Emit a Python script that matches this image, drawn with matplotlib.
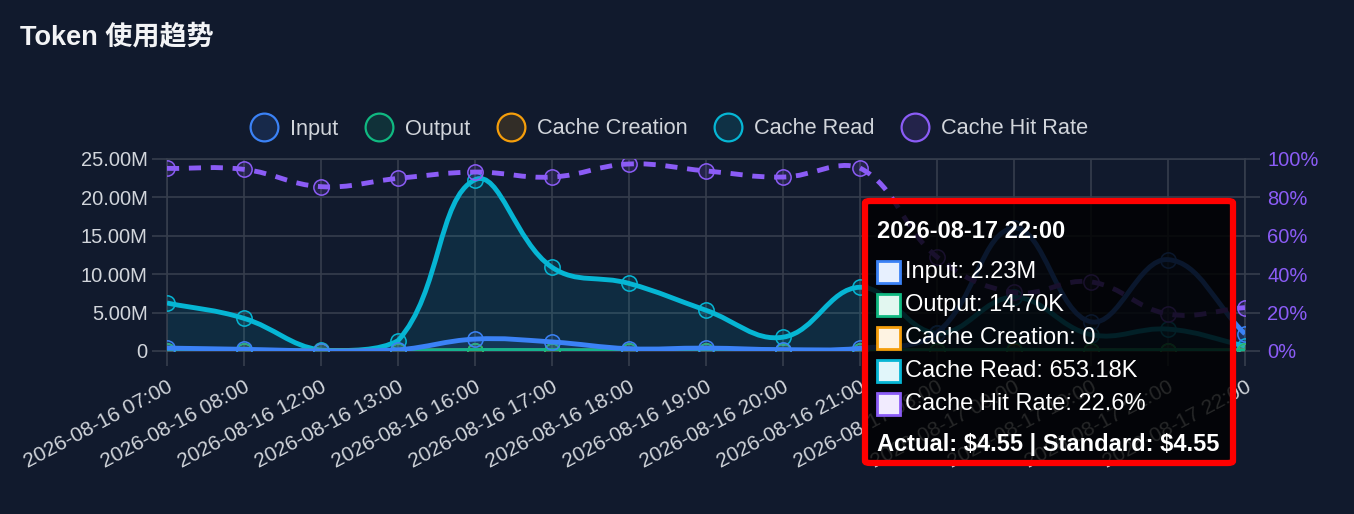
import numpy as np
import matplotlib
matplotlib.use('Agg')
import matplotlib.pyplot as plt
from matplotlib.path import Path
from matplotlib.patches import PathPatch, FancyBboxPatch, Rectangle
from matplotlib.lines import Line2D
from matplotlib.colors import to_rgba, to_rgb

# data (tokens in millions, hit rate in %)
labels = ['2026-08-16 07:00', '2026-08-16 08:00', '2026-08-16 12:00', '2026-08-16 13:00',
          '2026-08-16 16:00', '2026-08-16 17:00', '2026-08-16 18:00', '2026-08-16 19:00',
          '2026-08-16 20:00', '2026-08-16 21:00', '2026-08-17 08:00', '2026-08-17 09:00',
          '2026-08-17 10:00', '2026-08-17 21:00', '2026-08-17 22:00']
input_tok = [0.38, 0.22, 0.02, 0.15, 1.55, 1.18, 0.30, 0.38, 0.18, 0.35, 2.40, 16.0, 3.80, 11.9, 2.23]
output_tok = [0.03, 0.02, 0.01, 0.01, 0.06, 0.05, 0.03, 0.03, 0.02, 0.03, 0.04, 0.09, 0.03, 0.06, 0.0147]
cache_creation = [0] * 15
cache_read = [6.25, 4.25, 0.10, 1.35, 22.3, 10.9, 8.8, 5.3, 1.8, 8.3, 2.3, 7.0, 2.14, 2.85, 0.653]
hit_rate = [95.1, 94.6, 85.6, 89.9, 93.2, 90.6, 97.4, 93.8, 90.6, 95.3, 49.0, 30.5, 36.0, 19.3, 22.6]

tip_title = '2026-08-17 22:00'
tip_rows = ['Input: 2.23M', 'Output: 14.70K', 'Cache Creation: 0', 'Cache Read: 653.18K', 'Cache Hit Rate: 22.6%']
tip_footer = 'Actual: $4.55 | Standard: $4.55'

C_IN, C_OUT, C_CC, C_CR, C_HR = '#3b82f6', '#10b981', '#f59e0b', '#06b6d4', '#8b5cf6'
BG = '#111a2d'
GRID = '#363e4d'
TXT = '#d1d5db'

W, H = 1354, 514
plt.rcParams['font.family'] = ['Liberation Sans', 'Noto Sans CJK SC', 'DejaVu Sans']

fig = plt.figure(figsize=(W / 100, H / 100), dpi=100)
fig.patch.set_facecolor(BG)

def fx(x):
    return x / W

def fy(y):
    return 1 - y / H

ax = fig.add_axes([fx(167), fy(351), fx(1245) - fx(167), fy(159) - fy(351)])
ax.set_facecolor('none')
x = np.arange(len(labels))
ax.set_xlim(0, len(labels) - 1)
ax.set_ylim(0, 25)
ax2 = ax.twinx()
ax2.set_ylim(0, 100)


def spline(a, xs, ys, t=0.4):
    # chart.js style bezier smoothing, worked out in pixel space
    pts = a.transData.transform(np.column_stack([xs, ys]))
    bb = a.bbox
    n = len(pts)
    cprev, cnext = [], []
    for i in range(n):
        p0 = pts[max(i - 1, 0)]
        p1 = pts[i]
        p2 = pts[min(i + 1, n - 1)]
        d01 = np.hypot(*(p1 - p0))
        d12 = np.hypot(*(p2 - p1))
        tot = d01 + d12
        s01 = d01 / tot if tot else 0
        s12 = d12 / tot if tot else 0
        a_ = p1 - t * s01 * (p2 - p0)
        b_ = p1 + t * s12 * (p2 - p0)
        a_[1] = np.clip(a_[1], bb.y0, bb.y1)
        b_[1] = np.clip(b_[1], bb.y0, bb.y1)
        cprev.append(a_)
        cnext.append(b_)
    verts = [pts[0]]
    codes = [Path.MOVETO]
    for i in range(1, n):
        verts += [cnext[i - 1], cprev[i], pts[i]]
        codes += [Path.CURVE4] * 3
    verts = a.transData.inverted().transform(np.array(verts))
    return verts, codes


def draw_series(a, ys, color, z, fill=True, ls='-'):
    verts, codes = spline(a, x, ys)
    if fill:
        fv = np.vstack([verts, [[x[-1], 0], [x[0], 0], [x[0], 0]]])
        fc = codes + [Path.LINETO, Path.LINETO, Path.CLOSEPOLY]
        a.add_patch(PathPatch(Path(fv, fc), facecolor=color, alpha=0.12, lw=0, zorder=z - 1))
    a.add_patch(PathPatch(Path(verts, codes), fill=False, edgecolor=color, lw=3.5,
                          linestyle=ls, capstyle='butt', zorder=z))
    a.plot(x, ys, 'o', ms=11, mfc=to_rgba(color, 0.15), mec=color,
           mew=1.1, ls='none', zorder=z + 0.5)


draw_series(ax, cache_read, C_CR, 3)
draw_series(ax, cache_creation, C_CC, 4)
draw_series(ax, output_tok, C_OUT, 5)
draw_series(ax, input_tok, C_IN, 6)
draw_series(ax2, hit_rate, C_HR, 3, fill=False, ls=(0, (2.5, 2)))

# axes styling
ax.set_xticks(x)
ax.set_xticklabels(labels, rotation=28, ha='right', rotation_mode='anchor', fontsize=15, color=TXT)
ax.set_yticks([0, 5, 10, 15, 20, 25])
ax.set_yticklabels(['0'] + ['%.2fM' % v for v in [5, 10, 15, 20, 25]], fontsize=14.5, color=TXT)
ax.tick_params(axis='both', length=11, width=1.2, color=GRID)
ax.tick_params(axis='x', pad=8)
ax.tick_params(axis='y', pad=3)
ax.grid(True, color=GRID, lw=1.2)
ax.set_axisbelow(True)
for s in ax.spines.values():
    s.set_color(GRID)
    s.set_linewidth(1.2)
ax2.set_yticks([0, 20, 40, 60, 80, 100])
ax2.set_yticklabels(['%d%%' % v for v in [0, 20, 40, 60, 80, 100]], fontsize=14.5, color=C_HR)
ax2.tick_params(axis='y', length=11, width=1.2, color=GRID, pad=5)
for s in ax2.spines.values():
    s.set_visible(False)

# title
fig.text(fx(20), fy(38), 'Token 使用趋势', fontsize=19.5, fontweight='bold', color='#f3f4f6',
         ha='left', va='center')

# legend
names = ['Input', 'Output', 'Cache Creation', 'Cache Read', 'Cache Hit Rate']
cols = [C_IN, C_OUT, C_CC, C_CR, C_HR]
handles = [Line2D([], [], marker='o', ms=20, mew=1.6, mec=c,
                  mfc=to_rgba(c, 0.15), ls='none') for c in cols]
leg = fig.legend(handles, names, loc='center', bbox_to_anchor=(fx(669), fy(129)), ncol=5,
                 frameon=False, fontsize=15.7, handlelength=1.3, handletextpad=0.55,
                 columnspacing=1.2, labelcolor=TXT)

# tooltip
tip = FancyBboxPatch((fx(865), fy(463)), fx(1233) - fx(865), fy(201) - fy(463),
                     boxstyle='round,pad=0,rounding_size=0.004', transform=fig.transFigure,
                     facecolor=(0, 0, 0, 0.82), edgecolor='#ff0000', lw=4.5, zorder=20)
fig.add_artist(tip)
fig.text(fx(877), fy(231), tip_title, fontsize=17, fontweight='bold', color='white',
         ha='left', va='center', zorder=21)
row_y = [272, 305, 338, 371, 404]
for txt, c, ry in zip(tip_rows, cols, row_y):
    tint = 0.88 + 0.12 * np.array(to_rgb(c))
    sq = Rectangle((fx(877), fy(ry + 11)), fx(23), 22 / H, transform=fig.transFigure,
                   facecolor=tint, edgecolor=c, lw=2.0, zorder=21)
    fig.add_artist(sq)
    fig.text(fx(905), fy(ry), txt, fontsize=17, color='white', ha='left', va='center', zorder=21)
foot = fig.text(fx(877), fy(444), tip_footer, fontsize=17, fontweight='bold', color='white',
                ha='left', va='center', zorder=21)
foot.set_parse_math(False)

fig.savefig('out.png', dpi=100, facecolor=BG)
